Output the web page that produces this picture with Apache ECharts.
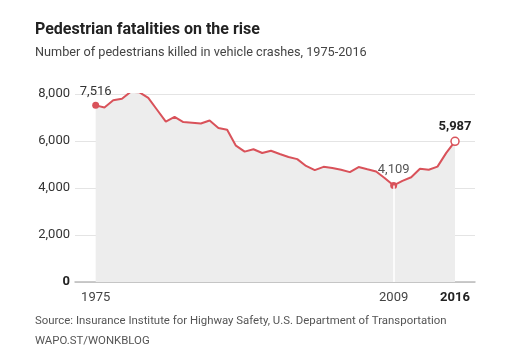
<!DOCTYPE html>
<html>
<head>
<meta charset="utf-8">
<script src="https://cdn.jsdelivr.net/npm/echarts@6/dist/echarts.min.js"></script>
<style>
html,body{margin:0;padding:0;background:#fff;}
#c{width:520px;height:356px;}
</style>
</head>
<body>
<div id="c"></div>
<script>
var years = [1975,1976,1977,1978,1979,1980,1981,1982,1983,1984,1985,1986,1987,1988,1989,1990,1991,1992,1993,1994,1995,1996,1997,1998,1999,2000,2001,2002,2003,2004,2005,2006,2007,2008,2009,2010,2011,2012,2013,2014,2015,2016];
var fatalities = [7516,7427,7732,7795,8096,8070,7837,7331,6826,7025,6808,6779,6745,6870,6556,6482,5801,5549,5649,5489,5584,5449,5321,5228,4939,4763,4901,4851,4774,4675,4892,4795,4699,4414,4109,4302,4457,4818,4779,4910,5494,5987];
var xTickLabels = [1975, 2009, 2016];
var yTicks = [0, 2000, 4000, 6000, 8000];
var labelledYears = [1975, 2009, 2016];

var RED = '#d9525a';
var FONT = 'Roboto, "Liberation Sans", sans-serif';

function fmt(v){ return v.toLocaleString('en-US'); }

var seriesData = years.map(function(y, i){
  var v = fatalities[i];
  var p = { value: [y, v] };
  if (y === 1975) {
    p.symbol = 'circle'; p.symbolSize = 7;
    p.itemStyle = { color: RED, borderColor: RED, borderWidth: 0 };
    p.label = { show: true, position: 'top', distance: 4, formatter: fmt(v), color: '#333', fontSize: 13, fontFamily: FONT };
  } else if (y === 2009) {
    p.symbol = 'circle'; p.symbolSize = 7;
    p.itemStyle = { color: RED, borderColor: RED, borderWidth: 0 };
    p.label = { show: true, position: 'top', distance: 6, formatter: fmt(v), color: '#555', fontSize: 13, fontFamily: FONT };
  } else if (y === 2016) {
    p.symbol = 'circle'; p.symbolSize = 8;
    p.itemStyle = { color: '#fff', borderColor: RED, borderWidth: 1.5 };
    p.label = { show: true, position: 'top', distance: 3, formatter: fmt(v), color: '#222', fontSize: 13, fontWeight: 'bold', fontFamily: FONT };
  } else {
    p.symbol = 'none';
  }
  return p;
});

var chart = echarts.init(document.getElementById('c'), null, {renderer: 'canvas'});
chart.setOption({
  animation: false,
  backgroundColor: '#fff',
  title: [
    { text: 'Pedestrian fatalities on the rise', left: 35, top: 22, padding: 0,
      textStyle: { fontFamily: FONT, fontSize: 16, fontWeight: 'bold', color: '#222' } },
    { text: 'Number of pedestrians killed in vehicle crashes, 1975-2016', left: 35, top: 46, padding: 0,
      textStyle: { fontFamily: FONT, fontSize: 12.7, fontWeight: 'normal', color: '#444' } },
    { text: 'Source: Insurance Institute for Highway Safety, U.S. Department of Transportation', left: 35, top: 316, padding: 0,
      textStyle: { fontFamily: FONT, fontSize: 11.4, fontWeight: 'normal', color: '#555' } },
    { text: 'WAPO.ST/WONKBLOG', left: 35, top: 336, padding: 0,
      textStyle: { fontFamily: FONT, fontSize: 11.4, fontWeight: 'normal', color: '#555' } }
  ],
  grid: { left: 75, right: 45, top: 94, bottom: 74 },
  xAxis: {
    type: 'value',
    min: 1972.64, max: 2018.28,
    axisLine: { show: true, lineStyle: { color: '#bbb', width: 1.5 } },
    axisTick: { show: false },
    splitLine: { show: false },
    axisLabel: {
      customValues: xTickLabels,
      margin: 9,
      fontFamily: FONT, fontSize: 13, color: '#444',
      formatter: function(v){ return v === 2016 ? '{b|' + v + '}' : String(v); },
      rich: { b: { fontWeight: 'bold', color: '#222', fontFamily: FONT, fontSize: 13 } }
    }
  },
  yAxis: {
    type: 'value',
    min: 0, max: 8000, interval: 2000,
    axisLine: { show: false },
    axisTick: { show: false },
    splitLine: { show: true, lineStyle: { color: '#e4e4e4', width: 1.2 } },
    axisLabel: {
      margin: 5,
      fontFamily: FONT, fontSize: 13, color: '#333',
      formatter: function(v){ return v === 0 ? '{b|0}' : fmt(v); },
      rich: { b: { fontWeight: 'bold', color: '#222', fontFamily: FONT, fontSize: 13 } }
    }
  },
  series: [{
    type: 'line',
    data: seriesData,
    showSymbol: true,
    lineStyle: { color: RED, width: 2 },
    itemStyle: { color: RED },
    areaStyle: { color: '#ededed', opacity: 1 },
    z: 3,
    markLine: {
      silent: true,
      symbol: 'none',
      label: { show: false },
      lineStyle: { color: '#fff', width: 1.5, type: 'solid' },
      data: [[ { coord: [labelledYears[1], 0] }, { coord: [labelledYears[1], fatalities[years.indexOf(labelledYears[1])]] } ]]
    }
  }]
});
</script>
</body>
</html>
